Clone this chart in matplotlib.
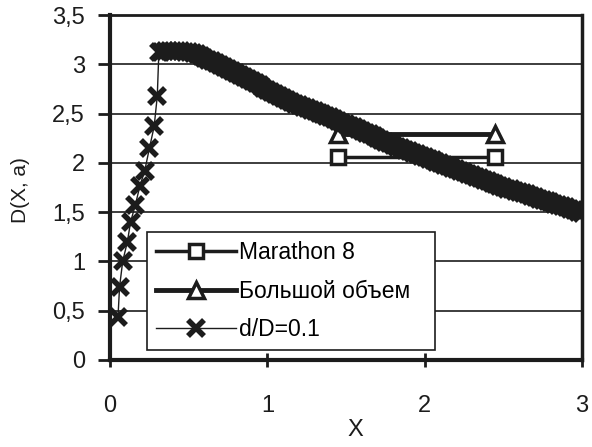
import matplotlib
matplotlib.use('Agg')
import matplotlib.pyplot as plt
from matplotlib.ticker import FixedLocator, FixedFormatter

plt.rcParams['font.family'] = ['Liberation Sans', 'DejaVu Sans']

# data
x_marathon = [1.45, 2.45]
y_marathon = [2.06, 2.06]

x_big = [1.45, 2.45]
y_big = [2.29, 2.29]

x_dd = [0.05, 0.06, 0.08, 0.11, 0.13, 0.16, 0.19, 0.22, 0.25, 0.28, 0.30,
        0.31, 0.325, 0.35, 0.375, 0.40, 0.425, 0.45, 0.475, 0.50, 0.525,
        0.55, 0.575, 0.60, 0.625, 0.65, 0.675, 0.70, 0.725, 0.75, 0.775,
        0.80, 0.825, 0.85, 0.875, 0.90, 0.925, 0.95, 0.975, 1.00, 1.025,
        1.05, 1.075, 1.10, 1.125, 1.15, 1.175, 1.20, 1.225, 1.25, 1.275,
        1.30, 1.325, 1.35, 1.375, 1.40, 1.425, 1.45, 1.475, 1.50, 1.525,
        1.55, 1.575, 1.60, 1.625, 1.65, 1.675, 1.70, 1.725, 1.75, 1.775,
        1.80, 1.825, 1.85, 1.875, 1.90, 1.925, 1.95, 1.975, 2.00, 2.025,
        2.05, 2.075, 2.10, 2.125, 2.15, 2.175, 2.20, 2.225, 2.25, 2.275,
        2.30, 2.325, 2.35, 2.375, 2.40, 2.425, 2.45, 2.475, 2.50, 2.525,
        2.55, 2.575, 2.60, 2.625, 2.65, 2.675, 2.70, 2.725, 2.75, 2.775,
        2.80, 2.825, 2.85, 2.875, 2.90, 2.925, 2.95, 2.975, 3.00]
y_dd = [0.43, 0.74, 1.00, 1.20, 1.40, 1.57, 1.77, 1.92, 2.15, 2.37, 2.68,
        3.13, 3.13, 3.14, 3.14, 3.14, 3.14, 3.14, 3.13, 3.13, 3.12,
        3.11, 3.09, 3.07, 3.05, 3.03, 3.01, 2.99, 2.97, 2.95, 2.93,
        2.91, 2.89, 2.87, 2.85, 2.83, 2.81, 2.79, 2.76, 2.74, 2.72,
        2.70, 2.68, 2.66, 2.64, 2.62, 2.60, 2.59, 2.57, 2.56, 2.54,
        2.53, 2.51, 2.50, 2.48, 2.47, 2.45, 2.43, 2.41, 2.39, 2.37,
        2.36, 2.34, 2.32, 2.30, 2.29, 2.27, 2.25, 2.23, 2.21, 2.20,
        2.18, 2.16, 2.15, 2.13, 2.12, 2.10, 2.09, 2.07, 2.06, 2.04,
        2.03, 2.01, 2.00, 1.98, 1.97, 1.95, 1.94, 1.92, 1.91, 1.89,
        1.88, 1.86, 1.85, 1.83, 1.82, 1.80, 1.79, 1.77, 1.76, 1.74,
        1.73, 1.71, 1.70, 1.69, 1.68, 1.66, 1.65, 1.63, 1.62, 1.61,
        1.60, 1.58, 1.57, 1.56, 1.55, 1.53, 1.52, 1.50, 1.49]

y_ticks = [0, 0.5, 1, 1.5, 2, 2.5, 3, 3.5]
y_ticklabels = ['0', '0,5', '1', '1,5', '2', '2,5', '3', '3,5']
x_ticks = [0, 1, 2, 3]
x_ticklabels = ['0', '1', '2', '3']

ink = '#1c1c1c'

fig = plt.figure(figsize=(5.92, 4.47), dpi=100)
ax = fig.add_axes([0.186, 0.195, 0.797, 0.771])

ax.plot(x_marathon, y_marathon, color=ink, lw=2.5, marker='s', ms=10,
        mfc='white', mec=ink, mew=2.5, label='Marathon 8', zorder=3)
ax.plot(x_big, y_big, color=ink, lw=3.5, marker='^', ms=12,
        mfc='white', mec=ink, mew=2.5, label='Большой объем', zorder=3)
ax.plot(x_dd, y_dd, color=ink, lw=1, marker='x', ms=11, mew=4,
        label='d/D=0.1', zorder=4)

ax.set_xlim(0, 3)
ax.set_ylim(0, 3.5)
ax.yaxis.set_major_locator(FixedLocator(y_ticks))
ax.yaxis.set_major_formatter(FixedFormatter(y_ticklabels))
ax.xaxis.set_major_locator(FixedLocator(x_ticks))
ax.xaxis.set_major_formatter(FixedFormatter(x_ticklabels))
ax.tick_params(axis='y', direction='out', length=9, width=2, pad=9,
               labelsize=17, colors=ink)
ax.tick_params(axis='x', direction='inout', length=10, width=2, pad=20,
               labelsize=17, colors=ink)

ax.grid(axis='y', color=ink, lw=1.2)
ax.set_axisbelow(True)

for side, w in [('left', 3), ('bottom', 3), ('top', 2), ('right', 2.5)]:
    ax.spines[side].set_linewidth(w)
    ax.spines[side].set_color(ink)

ax.set_xlabel('X', fontsize=17, color=ink, va='center')
ax.xaxis.set_label_coords(0.519, -0.205)
ax.set_ylabel('D(X, a)', fontsize=15, color=ink)
ax.yaxis.set_label_coords(-0.17, 0.493)

leg = ax.legend(loc='upper left', bbox_to_anchor=(0.078, 0.049, 0.61, 0.322),
                mode='expand', borderaxespad=0, fontsize=16.5, handlelength=3.5,
                handletextpad=0.1, labelspacing=0.68, borderpad=0.4,
                fancybox=False, framealpha=1, edgecolor=ink)
leg.get_frame().set_linewidth(1.2)
leg.set_zorder(5)

fig.savefig('out.png', dpi=100)
